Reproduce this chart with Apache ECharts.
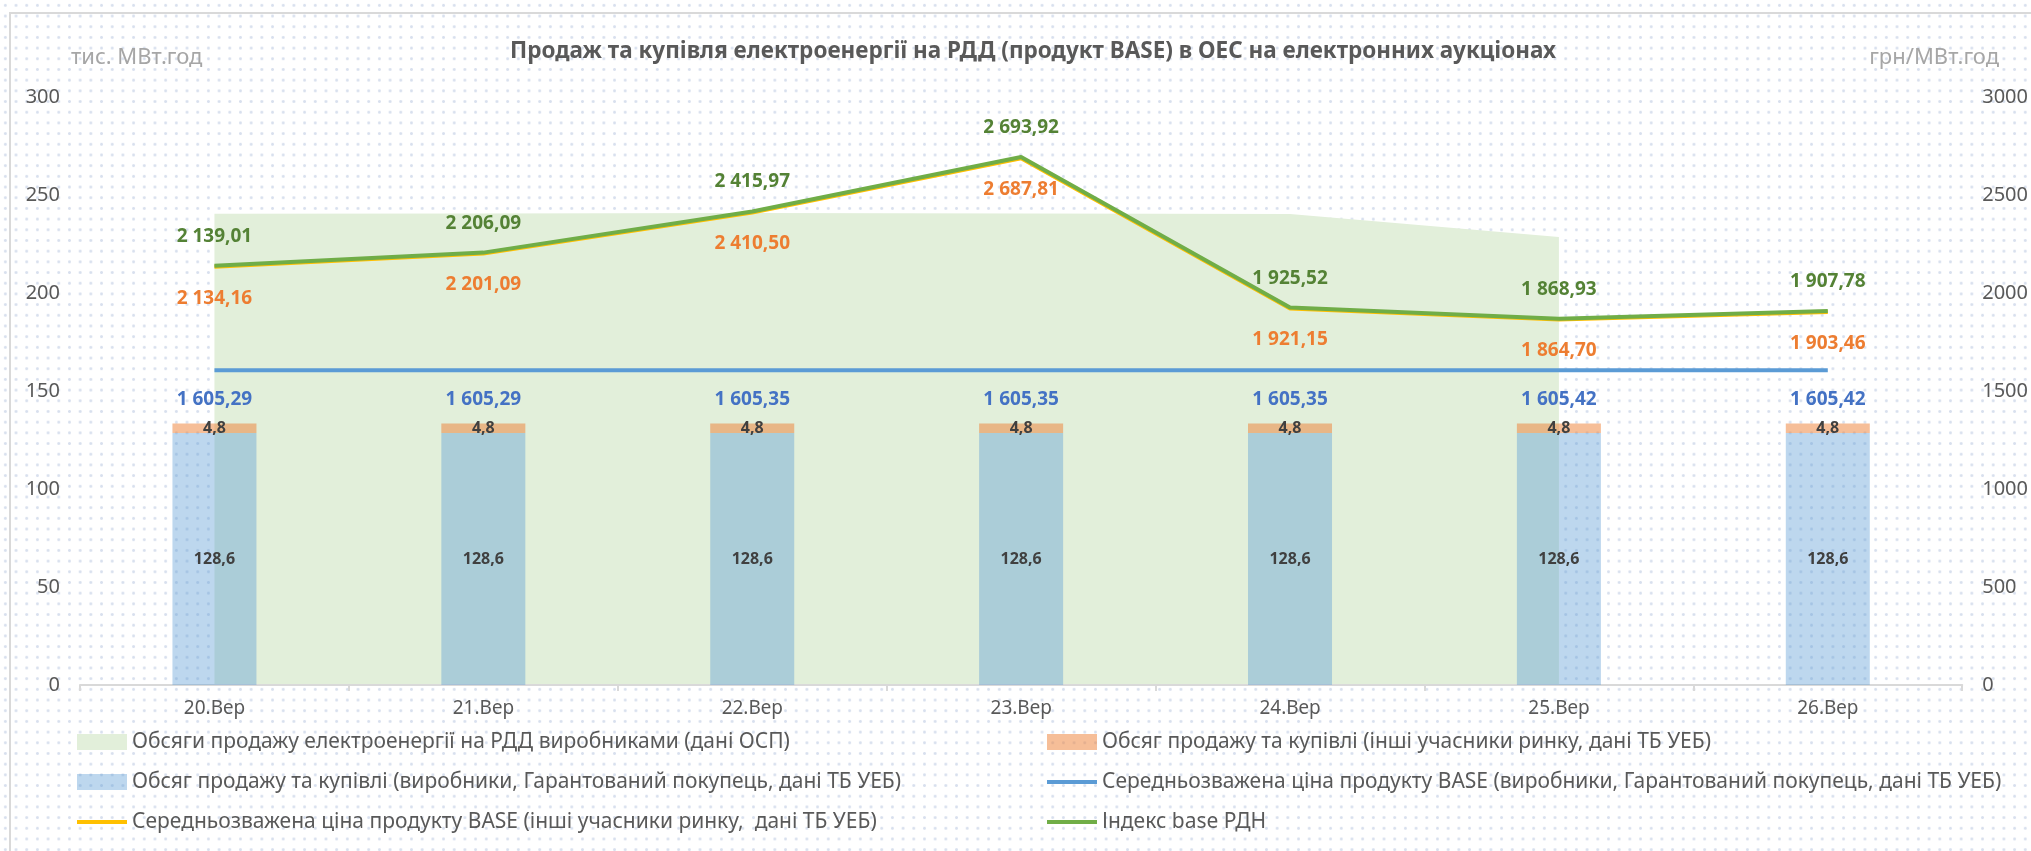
<!DOCTYPE html>
<html>
<head>
<meta charset="utf-8">
<script src="https://cdn.jsdelivr.net/npm/echarts@6/dist/echarts.min.js"></script>
<style>
    html, body { margin: 0; padding: 0; background: #fff; }
    #wrap {
        position: relative; width: 2031px; height: 851px; overflow: hidden;
        background-image: radial-gradient(circle at center, #d8e0ee 1.1px, transparent 1.7px);
        background-size: 10.7px 10.7px;
    }
    #frame {
        position: absolute; left: 9px; top: 12px; width: 2100px; height: 900px;
        border: 2px solid #d9d9d9; box-sizing: border-box;
    }
    #main { position: absolute; left: 0; top: 0; width: 2031px; height: 851px; }
</style>
</head>
<body>
<div id="wrap">
    <div id="frame"></div>
    <div id="main"></div>
</div>
<script>
//категорії
var categories = ['20.Вер', '21.Вер', '22.Вер', '23.Вер', '24.Вер', '25.Вер', '26.Вер'];
//обсяги, тис. МВт.год
var obsyagOsp = [240.4, 240.6, 240.8, 240.6, 240.3, 228.6, null];
var obsyagVyrobnyky = [128.6, 128.6, 128.6, 128.6, 128.6, 128.6, 128.6];
var obsyagInshi = [4.8, 4.8, 4.8, 4.8, 4.8, 4.8, 4.8];
//ціни, грн/МВт.год
var cinaVyrobnyky = [1605.29, 1605.29, 1605.35, 1605.35, 1605.35, 1605.42, 1605.42];
var cinaInshi = [2134.16, 2201.09, 2410.50, 2687.81, 1921.15, 1864.70, 1903.46];
var indexRdn = [2139.01, 2206.09, 2415.97, 2693.92, 1925.52, 1868.93, 1907.78];
//осі
var leftAxisTicks = [0, 50, 100, 150, 200, 250, 300];
var rightAxisTicks = [0, 500, 1000, 1500, 2000, 2500, 3000];

var names = [
    'Обсяги продажу електроенергії на РДД виробниками (дані ОСП)',
    'Обсяг продажу та купівлі (виробники, Гарантований покупець, дані ТБ УЕБ)',
    'Обсяг продажу та купівлі (інші учасники ринку, дані ТБ УЕБ)',
    'Середньозважена ціна продукту BASE (виробники, Гарантований покупець, дані ТБ УЕБ)',
    'Середньозважена ціна продукту BASE (інші учасники ринку,  дані ТБ УЕБ)',
    'Індекс base РДН'
];

function fmt(v, d) {
    var s = Number(v).toFixed(d).split('.');
    s[0] = s[0].replace(/\B(?=(\d{3})+(?!\d))/g, ' ');
    return s[1] ? s[0] + ',' + s[1] : s[0];
}

var font = 'Noto Sans';
var rectIcon = 'rect';
var lineIcon = 'path://M0,0M0,6h50v4h-50zM50,16';

var legendBase = {
    orient: 'vertical',
    top: 725,
    itemWidth: 50,
    itemHeight: 16,
    itemGap: 16,
    textStyle: { fontSize: 21, color: '#595959', lineHeight: 24 }
};

function lineLabel(pos, dist, color) {
    return {
        show: true,
        position: pos,
        distance: dist,
        fontSize: 19,
        fontWeight: 'bold',
        color: color,
        formatter: function (p) { return fmt(p.value, 2); }
    };
}

var myChart = echarts.init(document.getElementById('main'));
var option = {
    textStyle: { fontFamily: font },
    animation: false,
    title: {
        text: 'Продаж та купівля електроенергії на РДД (продукт BASE) в ОЕС на електронних аукціонах',
        left: 1028,
        top: 35,
        textAlign: 'center',
        textStyle: { fontSize: 22.5, fontWeight: 'bold', color: '#595959', fontFamily: font }
    },
    graphic: [
        { type: 'text', left: 71, top: 47, style: { text: 'тис. МВт.год', fontSize: 22, fill: '#a6a6a6', fontFamily: font } },
        { type: 'text', right: 32, top: 47, style: { text: 'грн/МВт.год', fontSize: 22, fill: '#a6a6a6', fontFamily: font } }
    ],
    legend: [
        Object.assign({}, legendBase, {
            left: 72,
            data: [
                { name: names[0], icon: rectIcon },
                { name: names[1], icon: rectIcon },
                { name: names[4], icon: lineIcon }
            ]
        }),
        Object.assign({}, legendBase, {
            left: 1042,
            data: [
                { name: names[2], icon: rectIcon },
                { name: names[3], icon: lineIcon },
                { name: names[5], icon: lineIcon }
            ]
        })
    ],
    grid: { left: 80, right: 64, top: 97, bottom: 166, containLabel: false },
    xAxis: {
        type: 'category',
        data: categories,
        axisLine: { lineStyle: { color: '#d9d9d9', width: 2 } },
        axisTick: { show: true, length: 6, lineStyle: { color: '#d9d9d9', width: 2 } },
        axisLabel: { fontSize: 19, color: '#595959', margin: 14 }
    },
    yAxis: [{
        type: 'value',
        min: leftAxisTicks[0],
        max: leftAxisTicks[leftAxisTicks.length - 1],
        interval: leftAxisTicks[1] - leftAxisTicks[0],
        splitLine: { show: false },
        axisLine: { show: false },
        axisLabel: { fontSize: 20, color: '#595959', margin: 20, formatter: function (v) { return String(v); } }
    }, {
        type: 'value',
        min: rightAxisTicks[0],
        max: rightAxisTicks[rightAxisTicks.length - 1],
        interval: rightAxisTicks[1] - rightAxisTicks[0],
        splitLine: { show: false },
        axisLine: { show: false },
        axisLabel: { fontSize: 20, color: '#595959', margin: 20, formatter: function (v) { return String(v); } }
    }],
    series: [{
        name: names[0],
        type: 'line',
        z: 0,
        data: obsyagOsp,
        symbol: 'none',
        lineStyle: { width: 0, color: '#e2efda' },
        itemStyle: { color: '#e2efda' },
        areaStyle: { color: '#e2efda', opacity: 1 }
    }, {
        name: names[1],
        type: 'bar',
        z: 3,
        stack: 'obsyag',
        barWidth: 84,
        data: obsyagVyrobnyky,
        itemStyle: { color: 'rgba(91,155,213,0.4)' },
        label: {
            show: true,
            position: 'inside',
            fontSize: 16,
            fontWeight: 'bold',
            color: '#404040',
            formatter: function (p) { return fmt(p.value, 1); }
        }
    }, {
        name: names[2],
        type: 'bar',
        z: 3,
        stack: 'obsyag',
        barWidth: 84,
        data: obsyagInshi,
        itemStyle: { color: 'rgba(237,125,49,0.5)' },
        label: {
            show: true,
            position: 'inside',
            fontSize: 16,
            fontWeight: 'bold',
            color: '#404040',
            formatter: function (p) { return fmt(p.value, 1); }
        }
    }, {
        name: names[3],
        type: 'line',
        z: 4,
        yAxisIndex: 1,
        data: cinaVyrobnyky,
        symbol: 'circle',
        symbolSize: 0,
        showSymbol: true,
        lineStyle: { width: 4, color: '#5b9bd5' },
        itemStyle: { color: '#5b9bd5' },
        label: lineLabel('bottom', 20, '#4472c4')
    }, {
        name: names[4],
        type: 'line',
        z: 4,
        yAxisIndex: 1,
        data: cinaInshi,
        symbol: 'circle',
        symbolSize: 0,
        showSymbol: true,
        lineStyle: { width: 4, color: '#ffc000' },
        itemStyle: { color: '#ffc000' },
        label: lineLabel('bottom', 22, '#ed7d31')
    }, {
        name: names[5],
        type: 'line',
        z: 4,
        yAxisIndex: 1,
        data: indexRdn,
        symbol: 'circle',
        symbolSize: 0,
        showSymbol: true,
        lineStyle: { width: 4, color: '#70ad47' },
        itemStyle: { color: '#70ad47' },
        label: lineLabel('top', 20, '#548235')
    }]
};
myChart.setOption(option, true);
</script>
</body>
</html>
